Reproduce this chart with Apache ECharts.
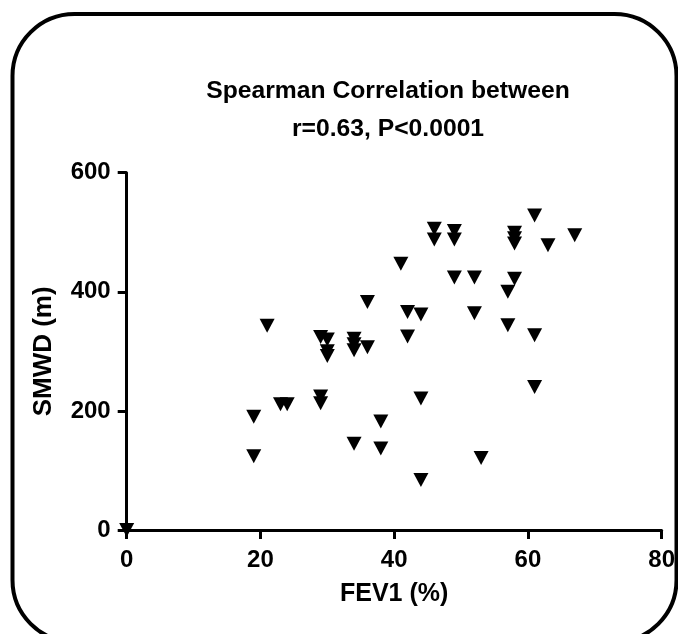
<!DOCTYPE html>
<html>
<head>
<meta charset="utf-8">
<script src="https://cdn.jsdelivr.net/npm/echarts@6/dist/echarts.min.js"></script>
<style>html,body{margin:0;padding:0;background:#fff;}#c{width:678px;height:634px;}</style>
</head>
<body>
<div id="c"></div>
<script>
const titleLines = ["Spearman Correlation between", "r=0.63, P<0.0001"];
const xName = "FEV1 (%)";
const yName = "SMWD (m)";
const xTicks = [0, 20, 40, 60, 80];
const yTicks = [0, 200, 400, 600];
const fev1 = [0, 19, 19, 21, 23, 24, 29, 29, 29, 30, 30, 30, 34, 34, 34, 34, 36, 36, 38, 38, 41, 42, 42, 44, 44, 44, 46, 46, 49, 49, 49, 52, 52, 53, 57, 57, 58, 58, 58, 58, 61, 61, 61, 63, 67];
const smwd = [0, 190, 124, 343, 211, 211, 224, 213, 324, 320, 300, 292, 321, 312, 302, 145, 307, 383, 182, 137, 447, 366, 325, 362, 221, 84, 506, 488, 502, 488, 424, 424, 364, 121, 400, 344, 499, 490, 481, 422, 528, 327, 240, 478, 495];

const points = fev1.map((x, i) => [x, smwd[i]]);
const font = "'Liberation Sans', Arial, sans-serif";
const chart = echarts.init(document.getElementById('c'), null, {renderer: 'canvas'});
chart.setOption({
  animation: false,
  backgroundColor: '#ffffff',
  title: {
    text: titleLines.join('\n'),
    left: 383, top: 67, textAlign: 'center',
    textStyle: {fontFamily: font, fontWeight: 'bold', fontSize: 24.7, lineHeight: 38, color: '#000'}
  },
  graphic: [{
    type: 'rect', z: 100, silent: true,
    shape: {x: 12.5, y: 14, width: 664, height: 628, r: 62},
    style: {fill: 'none', stroke: '#000', lineWidth: 4}
  }],
  grid: {left: 126.7, right: 12, top: 172.7, bottom: 104},
  xAxis: {
    type: 'value', min: xTicks[0], max: xTicks[xTicks.length - 1], interval: xTicks[1] - xTicks[0],
    name: xName, nameLocation: 'middle', nameGap: 52,
    nameTextStyle: {fontFamily: font, fontWeight: 'bold', fontSize: 25, color: '#000'},
    axisLine: {show: true, onZero: false, lineStyle: {color: '#000', width: 3}},
    axisTick: {show: true, inside: false, length: 9, lineStyle: {color: '#000', width: 3}},
    axisLabel: {margin: 18, fontFamily: font, fontWeight: 'bold', fontSize: 24, color: '#000'},
    splitLine: {show: false}
  },
  yAxis: {
    type: 'value', min: yTicks[0], max: yTicks[yTicks.length - 1], interval: yTicks[1] - yTicks[0],
    name: yName, nameLocation: 'middle', nameGap: 70, nameRotate: 90,
    nameTextStyle: {fontFamily: font, fontWeight: 'bold', fontSize: 26, color: '#000'},
    axisLine: {show: true, onZero: false, lineStyle: {color: '#000', width: 3}},
    axisTick: {show: true, inside: false, length: 9, lineStyle: {color: '#000', width: 3}},
    axisLabel: {margin: 16, fontFamily: font, fontWeight: 'bold', fontSize: 24, color: '#000'},
    splitLine: {show: false}
  },
  series: [{
    type: 'scatter', data: points, clip: false,
    symbol: 'triangle', symbolRotate: 180, symbolSize: [15, 14],
    itemStyle: {color: '#000', opacity: 1}, z: 10
  }]
});
</script>
</body>
</html>
